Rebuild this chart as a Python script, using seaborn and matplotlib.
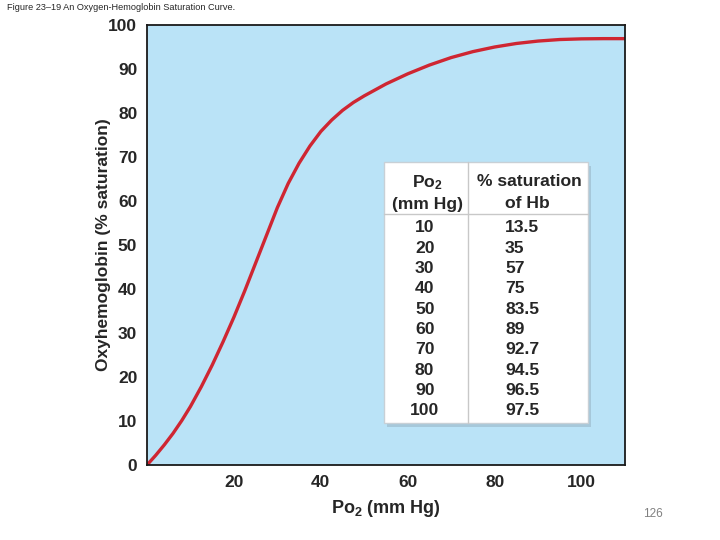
import matplotlib
matplotlib.use("Agg")
import matplotlib.pyplot as plt
import seaborn as sns
import pandas as pd
from matplotlib.patches import Rectangle

# Curve
curve_po2 = [0, 2, 4, 6, 8, 10, 12.5, 15, 17.5, 20, 22.5, 25, 27.5, 30, 32.5, 35, 37.5,
             40, 42.5, 45, 47.5, 50, 55, 60, 65, 70, 75, 80, 85, 90, 95, 100, 105, 110]
curve_sat = [0, 2.2, 4.6, 7.2, 10.1, 13.3, 17.8, 22.7, 28.0, 33.6, 39.6, 45.9, 52.2,
             58.5, 64.0, 68.6, 72.5, 75.8, 78.4, 80.6, 82.4, 83.9, 86.6, 88.9, 90.9,
             92.6, 93.95, 95.0, 95.8, 96.35, 96.7, 96.85, 96.9, 96.9]

# Table values
table_po2 = ["10", "20", "30", "40", "50", "60", "70", "80", "90", "100"]
table_sat = ["13.5", "35", "57", "75", "83.5", "89", "92.7", "94.5", "96.5", "97.5"]

x_ticks = [10, 20, 30, 40, 50, 60, 70, 80, 90, 100]
x_tick_labels = ["", "20", "", "40", "", "60", "", "80", "", "100"]
y_ticks = [0, 10, 20, 30, 40, 50, 60, 70, 80, 90, 100]

sns.set_style("white")
plt.rcParams['font.family'] = ['Liberation Sans', 'DejaVu Sans']
plt.rcParams['mathtext.default'] = 'regular'

fig = plt.figure(figsize=(7.2, 5.4), dpi=100)
ax = fig.add_axes([147 / 720, 75 / 540, 478 / 720, 440 / 540])
ax.set_facecolor("#bae3f7")

df = pd.DataFrame({"po2": curve_po2, "sat": curve_sat})
sns.lineplot(data=df, x="po2", y="sat", ax=ax, color="#cf2632", linewidth=2.4,
             sort=False, estimator=None)
for ln in ax.get_lines():
    ln.set_solid_joinstyle("round")
    ln.set_solid_capstyle("round")

ax.set_xlim(0, 110)
ax.set_ylim(0, 100)
ax.set_xticks(x_ticks)
ax.set_xticklabels(x_tick_labels)
ax.set_yticks(y_ticks)
ax.set_yticklabels([str(v) for v in y_ticks])
ax.tick_params(axis="both", direction="in", length=10, width=1.3, color="#1a2a3a",
               labelsize=12.5, pad=7)
for lab in ax.get_xticklabels() + ax.get_yticklabels():
    lab.set_fontweight("bold")
for sp in ax.spines.values():
    sp.set_visible(True)
    sp.set_color("#1a1a1a")
    sp.set_linewidth(1.3)

ax.set_xlabel("Po$_2$ (mm Hg)", fontsize=13, fontweight="bold", labelpad=6)
ax.set_ylabel("Oxyhemoglobin (% saturation)", fontsize=12.5, fontweight="bold", labelpad=-2)

# Table box
bx0, bx1, by0, by1 = 54.6, 101.5, 9.5, 68.9
ax.add_patch(Rectangle((bx0 + 0.6, by0 - 0.9), bx1 - bx0, by1 - by0, facecolor="#8fa9b8",
                       edgecolor="none", alpha=0.45, zorder=3))
ax.add_patch(Rectangle((bx0, by0), bx1 - bx0, by1 - by0, facecolor="white",
                       edgecolor="#c8d0d6", linewidth=1, zorder=4))
ax.plot([73.9, 73.9], [by0, by1], color="#c8c8c8", linewidth=1, zorder=5)
ax.plot([bx0, bx1], [57.0, 57.0], color="#c8c8c8", linewidth=1, zorder=5)

fs = 12.6
ax.text(64.5, 64.2, "Po$_2$", ha="center", va="center", fontsize=fs, fontweight="bold", zorder=6)
ax.text(64.5, 59.2, "(mm Hg)", ha="center", va="center", fontsize=fs, fontweight="bold", zorder=6)
ax.text(88.0, 64.4, "% saturation", ha="center", va="center", fontsize=fs, fontweight="bold", zorder=6)
ax.text(87.6, 59.4, "of Hb", ha="center", va="center", fontsize=fs, fontweight="bold", zorder=6)
for i, (a, b) in enumerate(zip(table_po2, table_sat)):
    yy = 53.9 - i * (53.9 - 12.3) / 9
    ax.text(63.9, yy, a, ha="center", va="center", fontsize=fs, fontweight="bold", zorder=6)
    ax.text(82.4, yy, b, ha="left", va="center", fontsize=fs, fontweight="bold", zorder=6)

fig.text(7 / 720, 1 - 7 / 540, "Figure 23\u201319 An Oxygen-Hemoglobin Saturation Curve.",
         ha="left", va="center", fontsize=6.6)
fig.text(653 / 720, 1 - 514 / 540, "126", ha="center", va="center", fontsize=8.5, color="#808080")

fig.savefig("out.png", dpi=100)
